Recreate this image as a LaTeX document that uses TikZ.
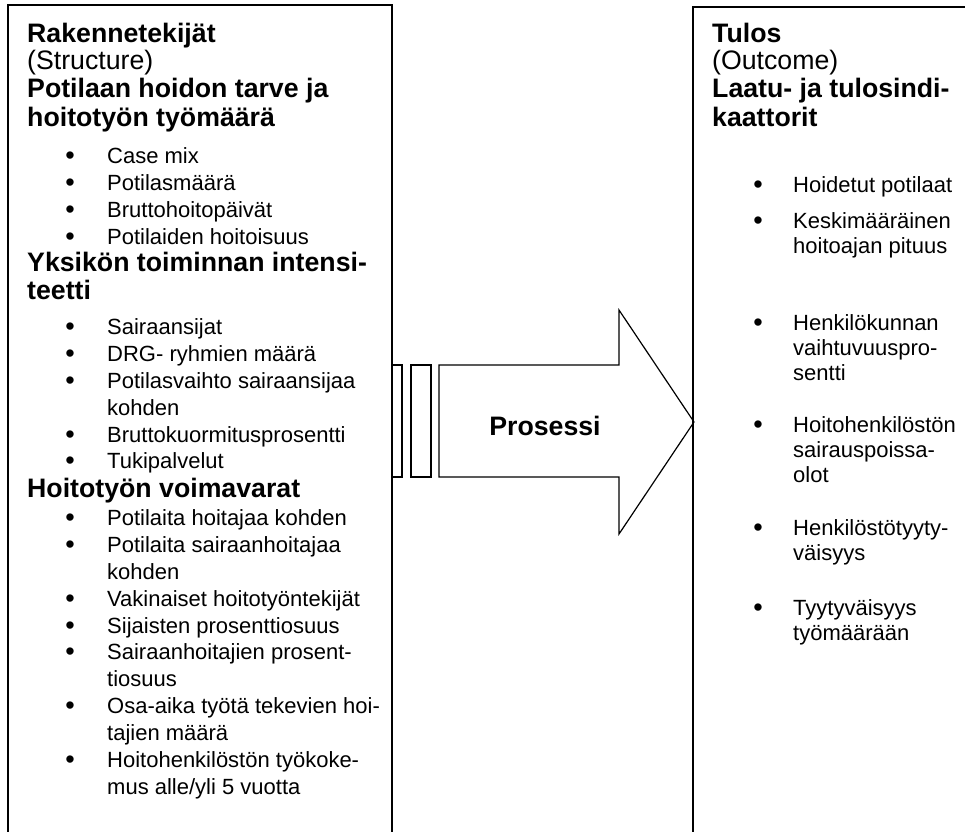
\documentclass[tikz,border=0pt]{standalone}
\usepackage{fontspec}
\setmainfont{Liberation Sans}
\newcommand{\headfont}{\fontsize{26.7}{28.5}\selectfont\bfseries}
\newcommand{\plainfont}{\fontsize{26.7}{28.5}\selectfont}
\newcommand{\itemfont}{\fontsize{22}{26}\selectfont}
\newcommand{\dotfont}{\fontsize{27}{27}\selectfont}
\tikzset{
  head/.style={anchor=base west, inner sep=0pt, font=\headfont},
  sub/.style={anchor=base west, inner sep=0pt, font=\plainfont},
  item/.style={anchor=base west, inner sep=0pt, font=\itemfont},
  dot/.style={anchor=base, inner sep=0pt, yshift=-1.4pt, font=\dotfont},
  frame/.style={line width=1.6pt},
}
\begin{document}
\begin{tikzpicture}[x=1pt, y=-1pt]
    \clip (0,0) rectangle (965,831);
    % open frames
    \draw[frame] (8,840) -- (8,5) -- (392,5) -- (392,840);
    \draw[frame] (693,840) -- (693,7) -- (970,7);
    % left column
    \node[head] (rak) at (27,42) {Rakennetekijät};
    \node[sub] (str) at (27,69) {(Structure)};
    \node[head] (pot1) at (27,97) {Potilaan hoidon tarve ja};
    \node[head] (pot2) at (27,126) {hoitotyön työmäärä};
    \foreach \y/\t [count=\i] in {163/Case mix, 190/Potilasmäärä,
        217/Bruttohoitopäivät, 244/Potilaiden hoitoisuus} {
        \node[dot] (pd\i) at (70,\y) {•};
        \node[item] (pt\i) at (107,\y) {\t};
    }
    \node[head] (yks1) at (27,271) {Yksikön toiminnan intensi-};
    \node[head] (yks2) at (27,299) {teetti};
    \foreach \y/\t [count=\i] in {334/Sairaansijat, 361/DRG- ryhmien määrä,
        388/Potilasvaihto sairaansijaa, 415/kohden,
        442/Bruttokuormitusprosentti, 468/Tukipalvelut} {
        \node[item] (yt\i) at (107,\y) {\t};
    }
    \foreach \y [count=\i] in {334,361,388,442,468}
        \node[dot] (yd\i) at (70,\y) {•};
    \node[head] (hoi) at (27,497) {Hoitotyön voimavarat};
    \foreach \y/\t [count=\i] in {525/Potilaita hoitajaa kohden,
        552/Potilaita sairaanhoitajaa, 579/kohden,
        606/Vakinaiset hoitotyöntekijät, 633/Sijaisten prosenttiosuus,
        659/Sairaanhoitajien prosent-, 686/tiosuus,
        713/Osa-aika työtä tekevien hoi-, 740/tajien määrä,
        767/Hoitohenkilöstön työkoke-, 794/{mus alle/yli 5 vuotta}} {
        \node[item] (ht\i) at (107,\y) {\t};
    }
    \foreach \y [count=\i] in {525,552,606,633,659,713,767}
        \node[dot] (hd\i) at (70,\y) {•};
    % process arrow
    \draw[line width=1.2pt] (392,365) rectangle (402,477);
    \draw[line width=1.2pt] (411,365) rectangle (431,477);
    \draw[line width=1.2pt] (439,365) -- (619,365) -- (619,310) -- (694,422)
        -- (619,534) -- (619,477) -- (439,477) -- cycle;
    \node[head, anchor=base] (pro) at (545,435) {Prosessi};
    % right column
    \node[head] (tul) at (712,42) {Tulos};
    \node[sub] (out) at (712,69) {(Outcome)};
    \node[head] (laa1) at (712,97) {Laatu- ja tulosindi-};
    \node[head] (laa2) at (712,126) {kaattorit};
    \foreach \y/\t [count=\i] in {192/Hoidetut potilaat,
        228/Keskimääräinen, 253/hoitoajan pituus,
        330/Henkilökunnan, 355/vaihtuvuuspro-, 380/sentti,
        432/Hoitohenkilöstön, 457/sairauspoissa-, 482/olot,
        535/Henkilöstötyyty-, 560/väisyys,
        615/Tyytyväisyys, 640/työmäärään} {
        \node[item] (tt\i) at (793,\y) {\t};
    }
    \foreach \y [count=\i] in {192,228,330,432,535,615}
        \node[dot] (td\i) at (758,\y) {•};
\end{tikzpicture}
\end{document}
